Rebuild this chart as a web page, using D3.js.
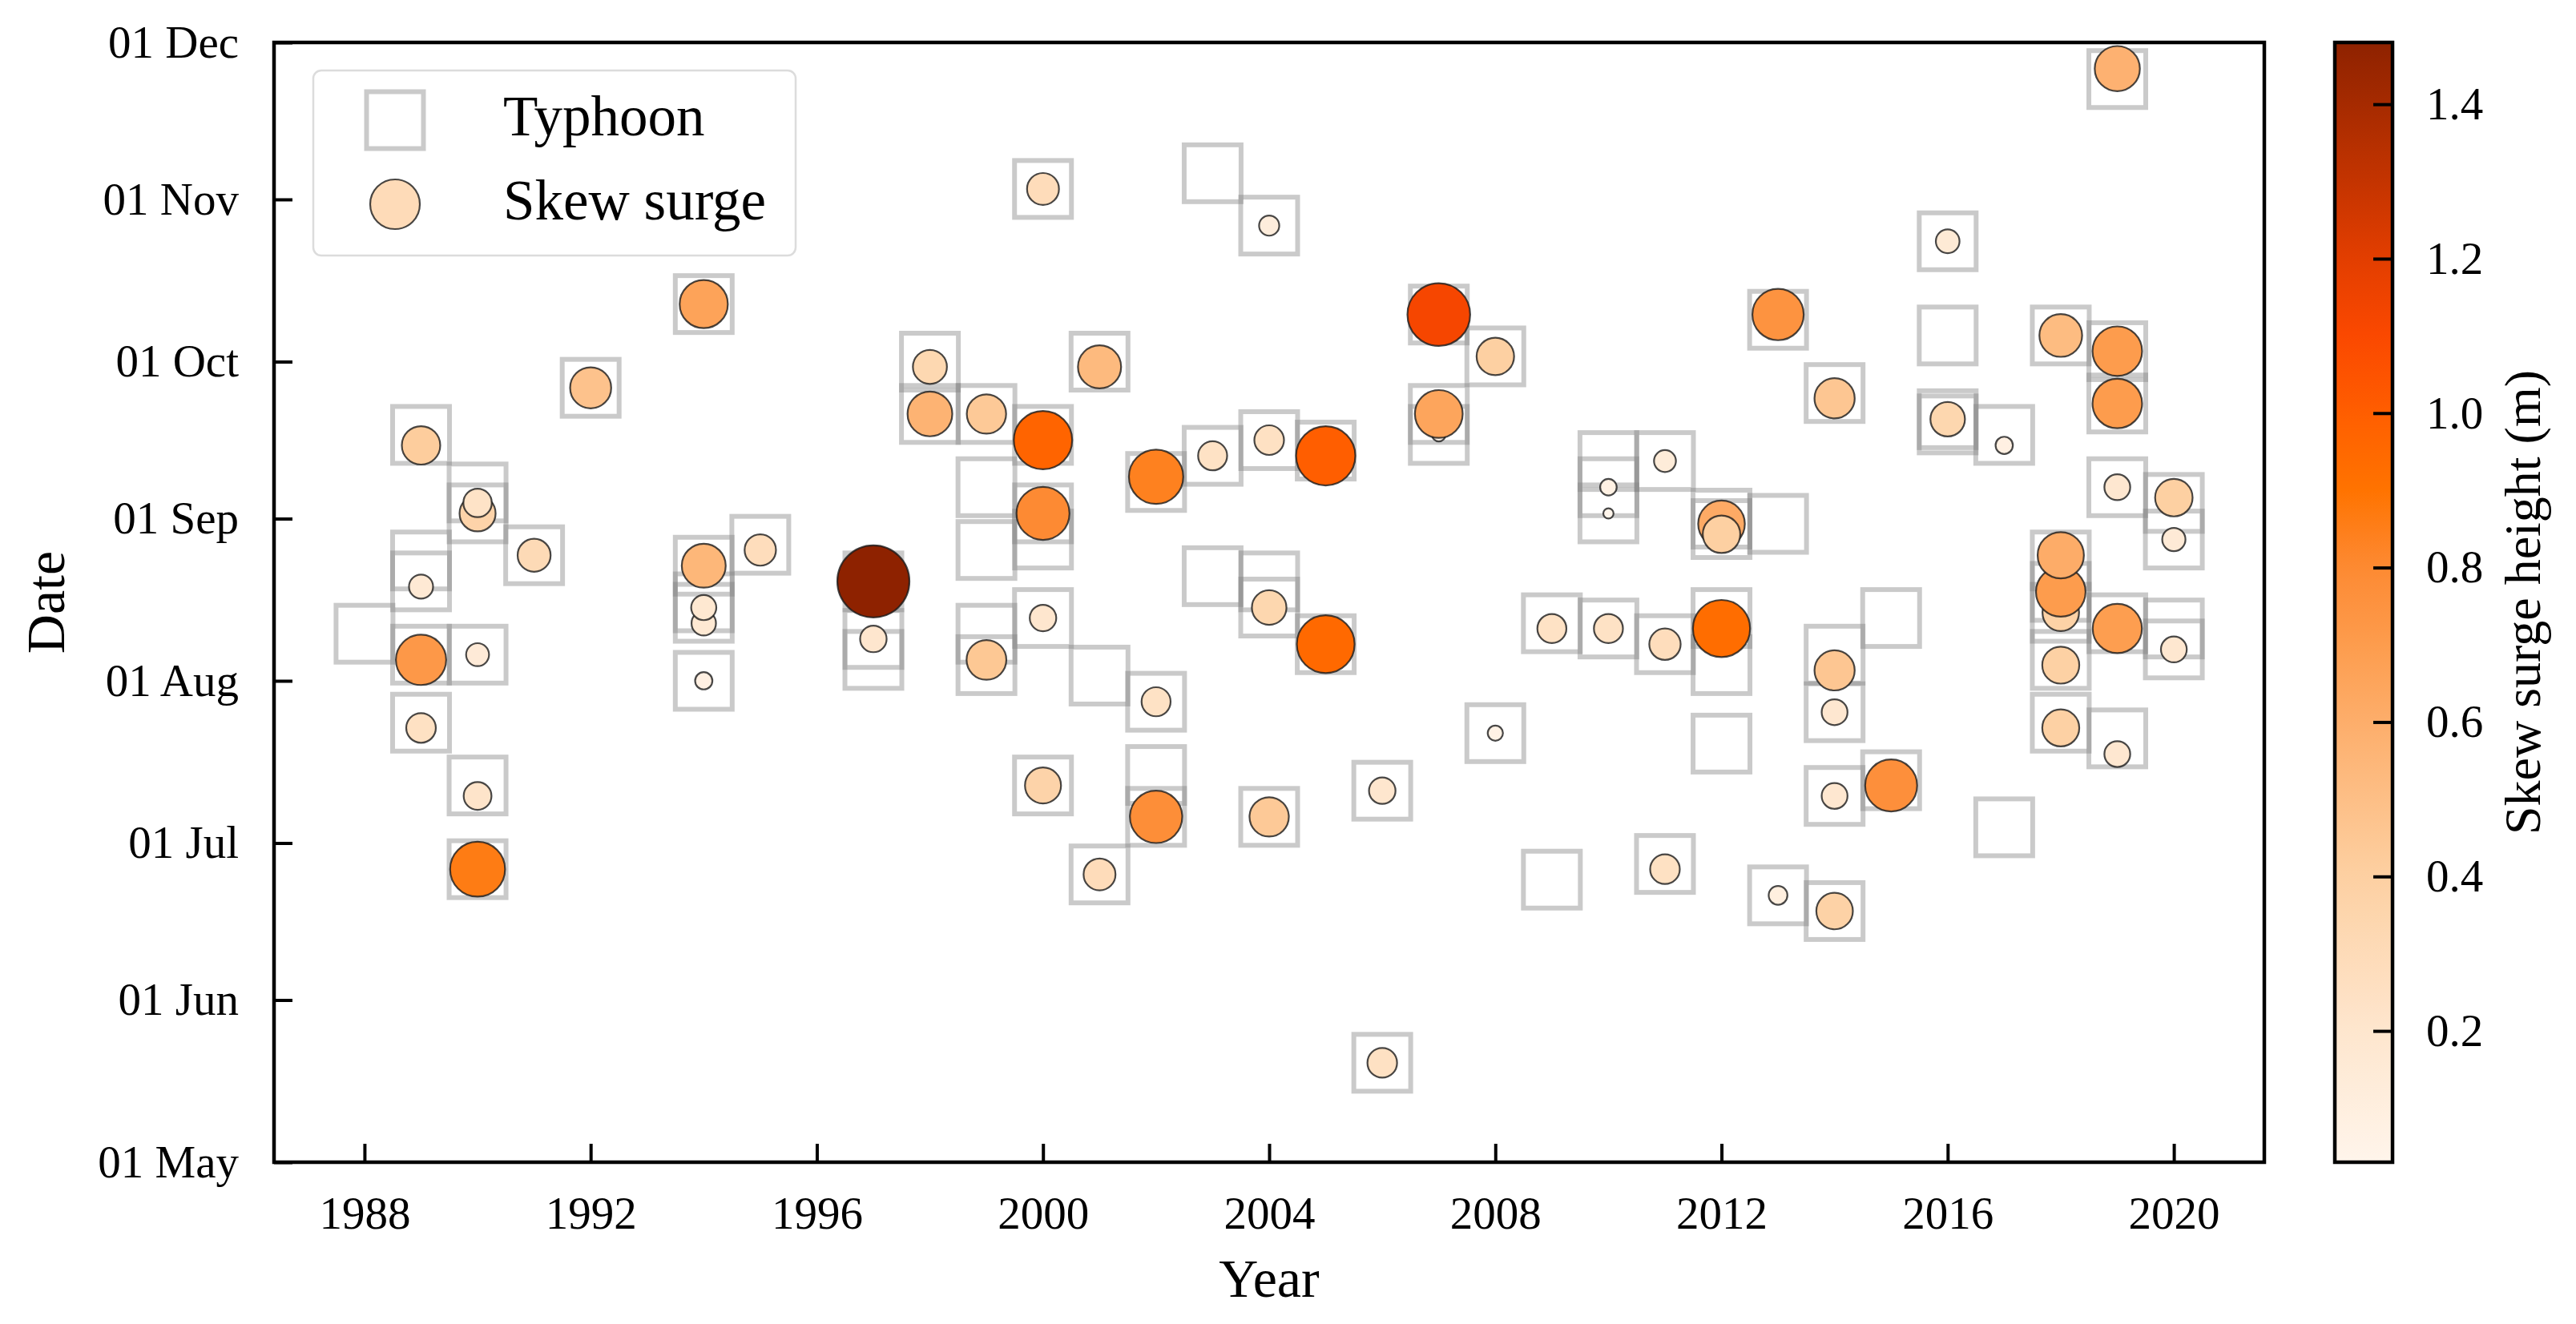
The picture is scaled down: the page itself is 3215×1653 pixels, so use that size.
<!DOCTYPE html>
<html>
<head>
<meta charset="utf-8">
<script src="https://cdn.jsdelivr.net/npm/d3@7"></script>
<style>
html,body{margin:0;padding:0;background:#fff;}
svg{display:block;}
text{font-family:"Liberation Serif","Times New Roman",serif;fill:#000;}
</style>
</head>
<body>
<svg id="chart" width="3215" height="1653"></svg>
<script>
// ---------------- DATA ----------------
const typhoons = [
  [1988,"08-10"],
  [1989,"09-17"],[1989,"08-24"],[1989,"08-20"],[1989,"08-06"],[1989,"07-24"],
  [1990,"09-06"],[1990,"09-02"],[1990,"08-06"],[1990,"07-12"],[1990,"06-26"],
  [1991,"08-25"],
  [1992,"09-26"],
  [1994,"10-12"],[1994,"08-23"],[1994,"08-16"],[1994,"08-14"],[1994,"08-01"],
  [1995,"08-27"],
  [1997,"08-20"],[1997,"08-09"],[1997,"08-05"],
  [1998,"10-01"],[1998,"09-21"],
  [1999,"09-21"],[1999,"09-07"],[1999,"08-26"],[1999,"08-10"],[1999,"08-04"],
  [2000,"11-03"],[2000,"09-17"],[2000,"09-02"],[2000,"08-28"],[2000,"08-13"],[2000,"07-12"],
  [2001,"10-01"],[2001,"08-02"],[2001,"06-25"],
  [2002,"09-08"],[2002,"07-28"],[2002,"07-14"],[2002,"07-06"],
  [2003,"11-06"],[2003,"09-13"],[2003,"08-21"],
  [2004,"10-27"],[2004,"09-16"],[2004,"08-20"],[2004,"08-15"],[2004,"07-06"],
  [2005,"09-14"],[2005,"08-08"],
  [2006,"07-11"],[2006,"05-20"],
  [2007,"10-10"],[2007,"09-21"],[2007,"09-17"],
  [2008,"10-02"],[2008,"07-22"],
  [2009,"08-12"],[2009,"06-24"],
  [2010,"09-12"],[2010,"09-07"],[2010,"09-02"],[2010,"08-11"],
  [2011,"09-12"],[2011,"08-08"],[2011,"06-27"],
  [2012,"09-01"],[2012,"08-30"],[2012,"08-13"],[2012,"08-04"],[2012,"07-20"],
  [2013,"10-09"],[2013,"08-31"],[2013,"06-21"],
  [2014,"09-25"],[2014,"08-06"],[2014,"07-26"],[2014,"07-10"],[2014,"06-18"],
  [2015,"08-13"],[2015,"07-13"],
  [2016,"10-24"],[2016,"10-06"],[2016,"09-20"],[2016,"09-19"],
  [2017,"09-17"],[2017,"07-04"],
  [2018,"10-06"],[2018,"08-24"],[2018,"08-18"],[2018,"08-14"],[2018,"08-05"],[2018,"07-24"],
  [2019,"11-24"],[2019,"10-03"],[2019,"09-23"],[2019,"09-07"],[2019,"08-12"],[2019,"07-21"],
  [2020,"09-04"],[2020,"08-28"],[2020,"08-11"],[2020,"08-07"]
];

// [year, date, skew surge height (m)]
const surges = [
  [1989,"09-15",0.42],[1989,"08-19",0.165],[1989,"08-05",0.72],[1989,"07-23",0.25],
  [1990,"09-02",0.37],[1990,"09-04",0.23],[1990,"08-06",0.15],[1990,"07-10",0.22],[1990,"06-26",0.86],
  [1991,"08-25",0.31],
  [1992,"09-26",0.48],
  [1994,"10-12",0.66],[1994,"08-23",0.55],[1994,"08-12",0.17],[1994,"08-15",0.18],[1994,"08-01",0.085],
  [1995,"08-26",0.28],
  [1997,"08-20",1.48],[1997,"08-09",0.2],
  [1998,"09-30",0.33],[1998,"09-21",0.57],
  [1999,"09-21",0.44],[1999,"08-05",0.45],
  [2000,"11-03",0.29],[2000,"09-16",0.97],[2000,"09-02",0.8],[2000,"08-13",0.2],[2000,"07-12",0.37],
  [2001,"09-30",0.53],[2001,"06-25",0.29],
  [2002,"09-09",0.84],[2002,"07-28",0.24],[2002,"07-06",0.78],
  [2003,"09-13",0.24],
  [2004,"10-27",0.116],[2004,"09-16",0.25],[2004,"08-15",0.34],[2004,"07-06",0.44],
  [2005,"09-13",1.0],[2005,"08-08",0.95],
  [2006,"07-11",0.2],[2006,"05-20",0.25],
  [2007,"10-10",1.12],[2007,"09-17",0.05],[2007,"09-21",0.65],
  [2008,"10-02",0.4],[2008,"07-22",0.066],
  [2009,"08-11",0.24],
  [2010,"09-07",0.078],[2010,"09-02",0.03],[2010,"08-11",0.24],
  [2011,"09-12",0.137],[2011,"08-08",0.28],[2011,"06-26",0.25],
  [2012,"08-31",0.62],[2012,"08-29",0.4],[2012,"08-11",0.93],
  [2013,"10-10",0.75],[2013,"06-21",0.1],
  [2014,"09-24",0.46],[2014,"08-03",0.46],[2014,"07-26",0.19],[2014,"07-10",0.19],[2014,"06-18",0.38],
  [2015,"07-12",0.77],
  [2016,"10-24",0.16],[2016,"09-20",0.34],
  [2017,"09-15",0.085],
  [2018,"10-06",0.52],[2018,"08-14",0.38],[2018,"08-18",0.70],[2018,"08-25",0.61],[2018,"08-04",0.39],[2018,"07-23",0.39],
  [2019,"11-26",0.58],[2019,"10-03",0.70],[2019,"09-23",0.70],[2019,"09-07",0.19],[2019,"08-11",0.69],[2019,"07-18",0.19],
  [2020,"09-05",0.40],[2020,"08-28",0.154],[2020,"08-07",0.19]
];

const yearTicks = [1988,1992,1996,2000,2004,2008,2012,2016,2020];
const monthTicks = ["05-01","06-01","07-01","08-01","09-01","10-01","11-01","12-01"];
const cbarTicks = [0.2,0.4,0.6,0.8,1.0,1.2,1.4];
const cbarRange = [0.03,1.48];
const colorStops = [0.03,0.2,0.4,0.6,0.7,0.8,0.9,1.0,1.1,1.2,1.3,1.48];
const colorValues = ["#fff5eb","#fee6ce","#fdd0a2","#fdae6b","#fd9c4d","#fd8a33","#ff7300","#ff5e00","#fb4800","#e33e00","#c43400","#8e2200"];

// ---------------- LAYOUT ----------------
const L = 342, R = 2826, T = 53, B = 1451;
const parse = d3.timeParse("%Y-%m-%d");
const toDate = md => parse("2001-" + md);

const svg = d3.select("#chart");

const x = d3.scaleLinear().domain([1986.4, 2021.6]).range([L, R]);
const y = d3.scaleTime().domain([toDate("05-01"), toDate("12-01")]).range([B, T]);
const color = d3.scaleLinear().domain(colorStops).range(colorValues).interpolate(d3.interpolateRgb).clamp(true);
const rScale = d3.scaleSqrt().domain([0, 1.48]).range([0, 45]);

// squares (typhoons)
const sq = 71;
svg.append("g").selectAll("rect").data(typhoons).join("rect")
  .attr("x", d => x(d[0]) - sq/2)
  .attr("y", d => y(toDate(d[1])) - sq/2)
  .attr("width", sq).attr("height", sq)
  .attr("fill", "none")
  .attr("stroke", "#808080")
  .attr("stroke-opacity", 0.42)
  .attr("stroke-width", 6);

// circles (skew surge)
svg.append("g").selectAll("circle").data(surges).join("circle")
  .attr("cx", d => x(d[0]))
  .attr("cy", d => y(toDate(d[1])))
  .attr("r", d => rScale(d[2]))
  .attr("fill", d => color(d[2]))
  .attr("stroke", "#1a1a1a")
  .attr("stroke-opacity", 0.8)
  .attr("stroke-width", 2.2);

// axes
const axFont = 57;
const yAxis = d3.axisLeft(y)
  .tickValues(monthTicks.map(toDate))
  .tickFormat(d3.timeFormat("%d %b"))
  .tickSizeInner(-23).tickSizeOuter(0).tickPadding(44);
const gy = svg.append("g").attr("transform", `translate(${L},0)`).call(yAxis);

const xAxis = d3.axisBottom(x)
  .tickValues(yearTicks)
  .tickFormat(d3.format("d"))
  .tickSizeInner(-23).tickSizeOuter(0).tickPadding(43);
const gx = svg.append("g").attr("transform", `translate(0,${B})`).call(xAxis);

[gx, gy].forEach(g => {
  g.select(".domain").remove();
  g.selectAll(".tick line").attr("stroke", "#000").attr("stroke-width", 4);
  g.selectAll(".tick text").style("font-family", '"Liberation Serif","Times New Roman",serif').style("font-size", axFont + "px").attr("fill", "#000");
});

// frame
svg.append("rect").attr("x", L).attr("y", T).attr("width", R - L).attr("height", B - T)
  .attr("fill", "none").attr("stroke", "#000").attr("stroke-width", 4.5);

// axis labels
svg.append("text").attr("x", (L + R) / 2).attr("y", 1619).attr("text-anchor", "middle")
  .style("font-size", "68px").text("Year");
svg.append("text").attr("transform", `translate(80,${(T + B) / 2}) rotate(-90)`).attr("text-anchor", "middle")
  .style("font-size", "68px").text("Date");

// legend
const lg = svg.append("g");
lg.append("rect").attr("x", 391).attr("y", 88).attr("width", 602).attr("height", 231).attr("rx", 10)
  .attr("fill", "#fff").attr("fill-opacity", 0.85).attr("stroke", "#dcdcdc").attr("stroke-width", 2.5);
lg.append("rect").attr("x", 493 - sq/2).attr("y", 150 - sq/2).attr("width", sq).attr("height", sq)
  .attr("fill", "none").attr("stroke", "#808080").attr("stroke-opacity", 0.42).attr("stroke-width", 6);
lg.append("circle").attr("cx", 493).attr("cy", 255).attr("r", 31)
  .attr("fill", color(0.3)).attr("stroke", "#1a1a1a").attr("stroke-opacity", 0.8).attr("stroke-width", 2.2);
lg.append("text").attr("x", 628).attr("y", 169).style("font-size", "71px").text("Typhoon");
lg.append("text").attr("x", 628).attr("y", 274).style("font-size", "71px").text("Skew surge");

// colorbar
const CBx = 2914, CBw = 72;
const cb = d3.scaleLinear().domain(cbarRange).range([B, T]);
const defs = svg.append("defs");
const grad = defs.append("linearGradient").attr("id", "cbgrad")
  .attr("x1", "0").attr("y1", "1").attr("x2", "0").attr("y2", "0");
d3.range(0, 1.0001, 0.02).forEach(t => {
  const v = cbarRange[0] + t * (cbarRange[1] - cbarRange[0]);
  grad.append("stop").attr("offset", t).attr("stop-color", color(v));
});
svg.append("rect").attr("x", CBx).attr("y", T).attr("width", CBw).attr("height", B - T)
  .attr("fill", "url(#cbgrad)");
const cAxis = d3.axisRight(cb).tickValues(cbarTicks).tickFormat(d3.format(".1f"))
  .tickSizeInner(-24).tickSizeOuter(0).tickPadding(42);
const gc = svg.append("g").attr("transform", `translate(${CBx + CBw},0)`).call(cAxis);
gc.select(".domain").remove();
gc.selectAll(".tick line").attr("stroke", "#000").attr("stroke-width", 4);
gc.selectAll(".tick text").style("font-family", '"Liberation Serif","Times New Roman",serif').style("font-size", axFont + "px").attr("fill", "#000");
svg.append("rect").attr("x", CBx).attr("y", T).attr("width", CBw).attr("height", B - T)
  .attr("fill", "none").attr("stroke", "#000").attr("stroke-width", 4.5);
svg.append("text").attr("transform", `translate(3170,${(T + B) / 2}) rotate(-90)`).attr("text-anchor", "middle")
  .style("font-size", "64px").text("Skew surge height (m)");
</script>
</body>
</html>
